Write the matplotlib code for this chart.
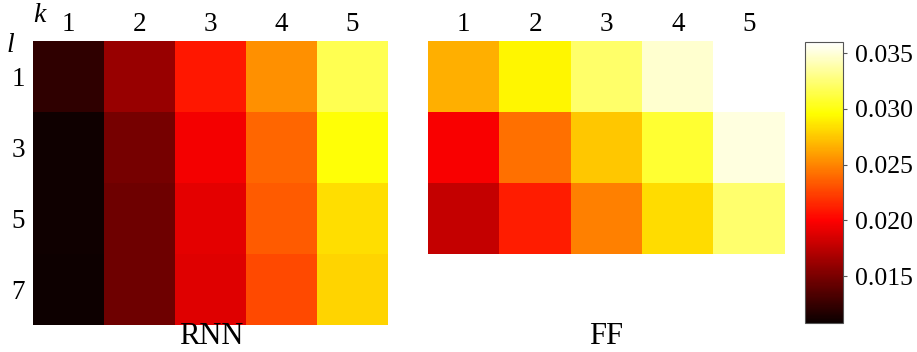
import numpy as np
import matplotlib
matplotlib.use("Agg")
import matplotlib.pyplot as plt

plt.rcParams['font.family'] = ['Liberation Serif', 'DejaVu Serif']
plt.rcParams['mathtext.fontset'] = 'custom'
plt.rcParams['mathtext.it'] = 'Liberation Serif:italic'

# Hyperparameter grid: k (columns) and l (rows)
k_values = [1, 2, 3, 4, 5]
l_values_rnn = [1, 3, 5, 7]
l_values_ff = [1, 3, 5]

# Error values per (l, k) for the recurrent model
rnn_values = [
    [0.0122, 0.0162, 0.0209, 0.0254, 0.0316],
    [0.0110, 0.0149, 0.0196, 0.0238, 0.0297],
    [0.0110, 0.0146, 0.0190, 0.0234, 0.0284],
    [0.0109, 0.0146, 0.0188, 0.0228, 0.0280],
]

# Error values per (l, k) for the feed-forward model
ff_values = [
    [0.0266, 0.0293, 0.0322, 0.0348, 0.0360],
    [0.0198, 0.0242, 0.0275, 0.0308, 0.0352],
    [0.0178, 0.0211, 0.0248, 0.0283, 0.0323],
]

cbar_ticks = [0.015, 0.020, 0.025, 0.030, 0.035]

rnn = np.array(rnn_values)
ff = np.array(ff_values)
vmin = 0.0108
vmax = 0.0360

W, H = 917, 352
fig = plt.figure(figsize=(W / 100, H / 100), dpi=100)


def px_axes(x0, y0, x1, y1):
    return fig.add_axes([x0 / W, 1 - y1 / H, (x1 - x0) / W, (y1 - y0) / H])


ax_rnn = px_axes(33, 41, 388, 325)
ax_ff = px_axes(428, 41, 785, 254)
cax = px_axes(805, 42, 843, 323)

tick_fs = 19.5

im = ax_rnn.imshow(rnn, cmap='hot', vmin=vmin, vmax=vmax,
                   aspect='auto', interpolation='nearest')
ax_ff.imshow(ff, cmap='hot', vmin=vmin, vmax=vmax,
             aspect='auto', interpolation='nearest')

for ax in (ax_rnn, ax_ff):
    ax.xaxis.tick_top()
    ax.set_xticks(range(len(k_values)))
    ax.set_xticklabels([str(k) for k in k_values], fontsize=tick_fs)
    ax.tick_params(axis='x', length=0, pad=3)
    for s in ax.spines.values():
        s.set_visible(False)

ax_rnn.set_yticks(range(len(l_values_rnn)))
ax_rnn.set_yticklabels([str(l) for l in l_values_rnn], fontsize=tick_fs)
ax_rnn.tick_params(axis='y', length=0, pad=6)
ax_ff.set_yticks([])

fig.text(40 / W, 1 - 15 / H, r'$k$', fontsize=20, ha='center', va='center')
fig.text(11 / W, 1 - 45 / H, r'$l$', fontsize=20, ha='center', va='center')

fig.text(211 / W, 1 - 337 / H, 'RNN', fontsize=22, ha='center', va='center')
fig.text(606 / W, 1 - 337 / H, 'FF', fontsize=22, ha='center', va='center')

cb = fig.colorbar(im, cax=cax, ticks=cbar_ticks)
cb.ax.set_yticklabels([f'{t:.3f}' for t in cbar_ticks], fontsize=18.5)
cb.ax.tick_params(length=3, width=0.8, color='#555555', pad=6)
cb.outline.set_edgecolor('#555555')
cb.outline.set_linewidth(0.8)

fig.savefig('out.png', dpi=100)
